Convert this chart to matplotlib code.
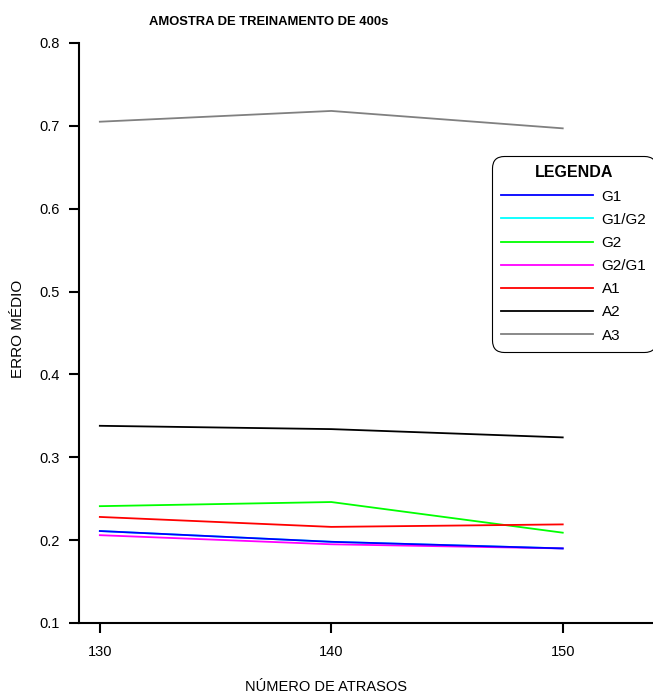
import matplotlib
matplotlib.use("Agg")
import matplotlib.pyplot as plt

plt.rcParams['font.family'] = ['Liberation Sans', 'DejaVu Sans']

atrasos = [130, 140, 150]
g1 = [0.211, 0.198, 0.190]
g1_g2 = [0.211, 0.198, 0.190]
g2 = [0.241, 0.246, 0.209]
g2_g1 = [0.206, 0.195, 0.190]
a1 = [0.228, 0.216, 0.219]
a2 = [0.338, 0.334, 0.324]
a3 = [0.705, 0.718, 0.697]

W, H = 653, 696
fig = plt.figure(figsize=(W / 100, H / 100), dpi=100)
ax = fig.add_axes([79 / W, 1 - 623 / H, (W - 79) / W, (623 - 43) / H])

lw = 1.3
ax.plot(atrasos, g1, color='#0000ff', lw=lw, label='G1', zorder=5)
ax.plot(atrasos, g1_g2, color='#00ffff', lw=lw, label='G1/G2', zorder=2)
ax.plot(atrasos, g2, color='#00ff00', lw=lw, label='G2', zorder=3)
ax.plot(atrasos, g2_g1, color='#ff00ff', lw=lw, label='G2/G1', zorder=4)
ax.plot(atrasos, a1, color='#ff0000', lw=lw, label='A1', zorder=3)
ax.plot(atrasos, a2, color='#000000', lw=lw, label='A2', zorder=3)
ax.plot(atrasos, a3, color='#808080', lw=lw, label='A3', zorder=3)

ax.set_xlim(129.1, 153.9)
ax.set_ylim(0.1, 0.8)
ax.set_xticks(atrasos)
ax.set_yticks([0.1, 0.2, 0.3, 0.4, 0.5, 0.6, 0.7, 0.8])
ax.set_yticklabels(['0.1', '0.2', '0.3', '0.4', '0.5', '0.6', '0.7', '0.8'])
for s in ['top', 'right']:
    ax.spines[s].set_visible(False)
for s in ['left', 'bottom']:
    ax.spines[s].set_linewidth(1.5)
ax.tick_params(axis='both', direction='out', length=7, width=1.5, labelsize=10.5)
ax.tick_params(axis='y', pad=7)
ax.tick_params(axis='x', pad=9)

ax.set_xlabel('NÚMERO DE ATRASOS', fontsize=10.5)
ax.xaxis.set_label_coords((326 - 79) / (W - 79), -(687 - 623) / (623 - 43))
ax.xaxis.label.set_va('center')
ax.set_ylabel('ERRO MÉDIO', fontsize=11)
ax.yaxis.set_label_coords(-(79 - 18) / (W - 79), (623 - 329) / (623 - 43))
ax.yaxis.label.set_va('center')

fig.text(269 / W, 1 - 22 / H, 'AMOSTRA DE TREINAMENTO DE 400s', fontsize=9.4,
         fontweight='bold', ha='center', va='center')

leg = ax.legend(loc='upper left', bbox_to_anchor=(492 / W, 1 - 156 / H),
                bbox_transform=fig.transFigure, title='LEGENDA', fontsize=11,
                title_fontsize=11.5, handlelength=6.0, handletextpad=0.55,
                labelspacing=0.6, borderpad=0.62, borderaxespad=0,
                fancybox=True, framealpha=1, edgecolor='black')
leg.get_title().set_fontweight('bold')
leg.get_frame().set_linewidth(0.8)
leg.get_frame().set_boxstyle('round,pad=0,rounding_size=0.8')

fig.savefig('out.png', dpi=100)
